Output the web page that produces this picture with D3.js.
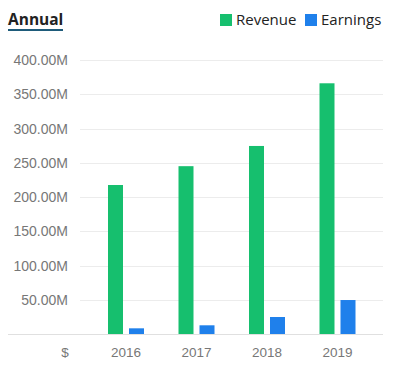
<!DOCTYPE html>
<html>
<head>
<meta charset="utf-8">
<script src="https://cdn.jsdelivr.net/npm/d3@7/dist/d3.min.js"></script>
<style>
html,body{margin:0;padding:0;background:#fff;}
svg{display:block;}
</style>
</head>
<body>
<svg id="chart" width="393" height="379"></svg>
<script>
const years = ["2016", "2017", "2018", "2019"];
const revenue = [217.5, 245, 274.5, 366];
const earnings = [8.3, 12.7, 24.8, 49.6];
const yTicks = [50, 100, 150, 200, 250, 300, 350, 400];
const seriesNames = ["Revenue", "Earnings"];
const seriesColors = ["#16bf6e", "#1f80eb"];

const svg = d3.select("#chart");
const y = d3.scaleLinear().domain([0, 400]).range([334, 60]);
const x = d3.scaleBand().domain(years).range([90.75, 372.75]).paddingInner(0).paddingOuter(0);
const bw = 15;

// gridlines
svg.append("g").selectAll("line").data(yTicks).join("line")
  .attr("x1", 80).attr("x2", 383)
  .attr("y1", d => Math.round(y(d)) + 0.5).attr("y2", d => Math.round(y(d)) + 0.5)
  .attr("stroke", "#ececec").attr("stroke-width", 1);

// y labels
svg.append("g").selectAll("text").data(yTicks).join("text")
  .attr("x", 68).attr("y", d => y(d) + 5)
  .attr("text-anchor", "end")
  .attr("font-family", "Liberation Sans, Arial, sans-serif")
  .attr("font-size", 14).attr("fill", "#777")
  .text(d => d3.format(".2f")(d) + "M");

// bars
const data = years.map((yr, i) => ({yr, vals: [revenue[i], earnings[i]]}));
const g = svg.append("g").selectAll("g").data(data).join("g");
g.selectAll("rect").data(d => d.vals.map((v, j) => ({yr: d.yr, v, j}))).join("rect")
  .attr("x", d => x(d.yr) + x.bandwidth() / 2 + (d.j === 0 ? -18 : 3))
  .attr("width", bw)
  .attr("y", d => y(d.v))
  .attr("height", d => y(0) - y(d.v))
  .attr("fill", d => seriesColors[d.j]);

// baseline
svg.append("line").attr("x1", 8).attr("x2", 383).attr("y1", 334.5).attr("y2", 334.5)
  .attr("stroke", "#e0e0e0").attr("stroke-width", 1);

// x labels
svg.append("g").selectAll("text").data(years).join("text")
  .attr("x", d => x(d) + x.bandwidth() / 2).attr("y", 357)
  .attr("text-anchor", "middle")
  .attr("font-family", "Liberation Sans, Arial, sans-serif")
  .attr("font-size", 13.5).attr("fill", "#777")
  .text(d => d);
svg.append("text").attr("x", 65).attr("y", 357).attr("text-anchor", "middle")
  .attr("font-family", "Liberation Sans, Arial, sans-serif")
  .attr("font-size", 13.5).attr("fill", "#777").text("$");

// title
svg.append("text").attr("x", 8).attr("y", 25)
  .attr("font-family", "Open Sans, sans-serif").attr("font-weight", "bold")
  .attr("font-size", 15.5).attr("fill", "#222").text("Annual");
svg.append("rect").attr("x", 8).attr("y", 29).attr("width", 55).attr("height", 2).attr("fill", "#1e5b7a");

// legend
const legX = [220, 305];
const lg = svg.append("g").selectAll("g").data(seriesNames).join("g");
lg.append("rect").attr("x", (d, i) => legX[i]).attr("y", 14).attr("width", 12).attr("height", 12)
  .attr("fill", (d, i) => seriesColors[i]);
lg.append("text").attr("x", (d, i) => legX[i] + 16).attr("y", 25)
  .attr("font-family", "Open Sans, sans-serif").attr("font-size", 15).attr("fill", "#222")
  .text(d => d);
</script>
</body>
</html>
